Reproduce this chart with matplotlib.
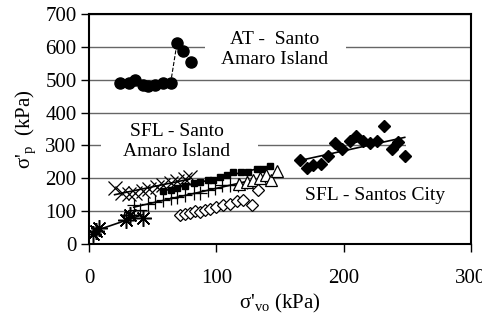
import numpy as np
import matplotlib.pyplot as plt
import matplotlib as mpl
from matplotlib.patches import Rectangle

# fonte tipo Times
mpl.rcParams['font.family'] = ['Liberation Serif', 'DejaVu Serif']
mpl.rcParams['mathtext.fontset'] = 'custom'
mpl.rcParams['mathtext.rm'] = 'Liberation Serif'
mpl.rcParams['mathtext.it'] = 'Liberation Serif:italic'

# AT - Santo Amaro Island
at_x = [24, 31, 36, 42, 46, 52, 58, 64, 69, 74, 80]
at_y = [489, 489, 498, 483, 480, 485, 489, 490, 611, 587, 553]

# SFL - Santos City
city_x = [166, 171, 176, 182, 188, 193, 199, 205, 210, 215, 221, 226, 232, 238, 243, 248]
city_y = [256, 231, 240, 243, 268, 307, 289, 313, 329, 313, 307, 313, 359, 289, 310, 268]

# SFL - Santo Amaro Island (varios furos)
cross_x = [20, 26, 31, 36, 42, 47, 53, 58, 64, 69, 75, 79]
cross_y = [170, 155, 152, 155, 161, 167, 173, 179, 185, 192, 198, 204]

sq_x = [58, 64, 69, 75, 82, 87, 93, 97, 103, 108, 113, 119, 125, 132, 137, 142]
sq_y = [161, 164, 170, 176, 186, 189, 195, 195, 204, 210, 219, 219, 219, 228, 228, 237]

plus_x = [35, 40, 46, 52, 58, 64, 69, 75, 82, 87, 93, 99, 104, 111, 117, 124]
plus_y = [119, 103, 122, 128, 134, 140, 143, 149, 155, 155, 164, 170, 179, 179, 179, 189]

tri_x = [118, 124, 129, 134, 139, 143, 148]
tri_y = [182, 190, 195, 200, 210, 196, 222]

dia_x = [71, 75, 79, 83, 87, 91, 95, 100, 105, 111, 116, 121, 128, 133]
dia_y = [88, 92, 95, 100, 98, 102, 107, 113, 118, 123, 130, 135, 118, 163]

ast_x = [3, 5, 8, 29, 32, 42]
ast_y = [30, 40, 50, 73, 88, 79]

osq_x = [30, 33]
osq_y = [88, 93]


def trend(ax, x, y):
    """linha de tendencia linear"""
    k, b = np.polyfit(x, y, 1)
    xx = np.array([min(x), max(x)])
    ax.plot(xx, k * xx + b, 'k-', lw=1.2, zorder=3)


fig = plt.figure(figsize=(4.82, 3.2), dpi=100)
ax = fig.add_axes([0.185, 0.2375, 0.792, 0.7185])

ax.plot(at_x, at_y, 'k--', lw=0.8, marker='o', ms=8, zorder=4)
ax.plot(city_x, city_y, 'kD', ms=6, zorder=4)
trend(ax, city_x, city_y)

ax.plot(cross_x, cross_y, 'kx', ms=10, mew=0.9, zorder=4)
trend(ax, cross_x, cross_y)
ax.plot(sq_x, sq_y, 'ks', ms=5, zorder=4)
trend(ax, sq_x, sq_y)
ax.plot(plus_x, plus_y, 'k+', ms=10, mew=0.9, zorder=4)
trend(ax, plus_x, plus_y)
ax.plot(tri_x, tri_y, '^', ms=8, mfc='white', mec='k', mew=0.9, ls='none', zorder=4)
ax.plot(dia_x, dia_y, 'D', ms=6, mfc='white', mec='k', mew=0.9, ls='none', zorder=4)
trend(ax, dia_x[:-2], dia_y[:-2])
ax.plot(ast_x, ast_y, marker=(8, 2, 0), ms=12, color='k', mew=1.1, ls='none', zorder=4)
trend(ax, ast_x, ast_y)
ax.plot(osq_x, osq_y, 's', ms=5, mfc='none', mec='k', mew=0.8, ls='none', zorder=4)

# fundos brancos dos textos (cortam a grade)
for x0, x1, yg in [(91, 202, 600), (9, 133, 300), (249, 300, 300)]:
    ax.add_patch(Rectangle((x0, yg - 8), x1 - x0, 16, fc='white', ec='none', zorder=1))

ax.text(146, 593, 'AT -  Santo\nAmaro Island', ha='center', va='center', fontsize=14, zorder=2)
ax.text(69, 312, 'SFL - Santo\nAmaro Island', ha='center', va='center', fontsize=14, zorder=2)
ax.text(225, 149, 'SFL - Santos City', ha='center', va='center', fontsize=14, zorder=2)

ax.set_xlim(0, 300)
ax.set_ylim(0, 700)
ax.set_xticks([0, 100, 200, 300])
ax.set_yticks(range(0, 701, 100))
ax.yaxis.grid(True, color='#666666', lw=1)
ax.set_axisbelow(True)
ax.tick_params(labelsize=15, width=1, length=6, pad=3)
ax.tick_params(axis='x', pad=12)
for s in ax.spines.values():
    s.set_linewidth(1.5)

ax.set_xlabel("σ'$_{\\mathrm{vo}}$ (kPa)", fontsize=15, labelpad=3)
ax.set_ylabel("σ'$_{\\mathrm{p}}$  (kPa)", fontsize=15, labelpad=5)

plt.savefig('out.png', dpi=100)
